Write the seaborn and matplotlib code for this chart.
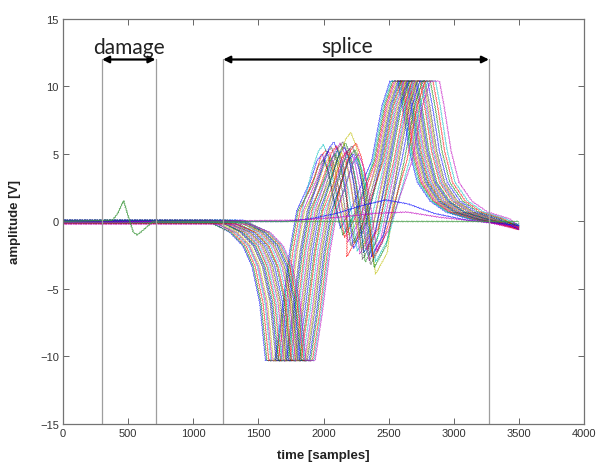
import matplotlib
matplotlib.use("Agg")
import matplotlib.pyplot as plt
import seaborn as sns

# ---- values ----
# main splice curves: features per curve
min_center = [1600, 1610, 1625, 1640, 1650, 1660, 1680, 1690, 1700, 1715, 1725, 1740, 1750,
              1760, 1775, 1790, 1800, 1815, 1830, 1840, 1850, 1865, 1875, 1890, 1900, 1910]
peak_x = [1990, 2000, 2020, 2000, 2040, 2050, 2060, 2080, 2090, 2100, 2110, 2130, 2140,
          2150, 2160, 2170, 2180, 2190, 2200, 2210, 2220, 2230, 2240, 2250, 2260, 2270]
peak_y = [5.0, 4.6, 5.3, 5.7, 5.2, 4.8, 5.5, 5.9, 5.0, 5.6, 5.3, 5.8, 5.1,
          5.9, 5.5, 5.8, 5.2, 4.9, 5.4, 6.6, 5.6, 5.0, 5.3, 5.8, 4.7, 5.0]
dip_x = [2130, 2150, 2160, 2170, 2190, 2200, 2210, 2230, 2240, 2180, 2260, 2280, 2290,
         2300, 2310, 2320, 2330, 2340, 2350, 2400, 2360, 2370, 2390, 2380, 2400, 2410]
dip_y = [-0.5, -1.0, -1.2, -0.8, -1.5, -1.0, -1.8, -2.0, -1.6, -2.6, -2.2, -2.4, -2.0,
         -2.8, -2.3, -3.0, -2.1, -2.5, -2.9, -3.9, -3.2, -2.6, -3.4, -2.7, -3.0, -2.2]
sat_start = [2510, 2530, 2540, 2520, 2550, 2560, 2570, 2580, 2590, 2600, 2610, 2620, 2630,
             2640, 2650, 2660, 2680, 2690, 2700, 2710, 2720, 2740, 2760, 2780, 2800, 2820]
sat_end = [2570, 2590, 2600, 2580, 2610, 2620, 2630, 2640, 2650, 2660, 2670, 2680, 2690,
           2700, 2710, 2720, 2740, 2750, 2760, 2770, 2780, 2800, 2820, 2840, 2860, 2890]
base_level = [0.05, -0.1, 0.1, -0.05, -0.15, 0.0, 0.05, 0.1, -0.1, 0.0, 0.05, -0.05, 0.1,
              -0.1, 0.0, 0.05, -0.15, 0.1, 0.0, -0.05, 0.05, 0.1, -0.1, 0.0, -0.05, -0.2]
tail_end = [-0.3, -0.4, -0.5, -0.2, -0.6, -0.4, -0.3, -0.5, -0.4, -0.6, -0.3, -0.5, -0.4,
            -0.2, -0.5, -0.4, -0.6, -0.3, -0.5, -0.4, -0.3, -0.6, -0.4, -0.5, -0.3, -0.4]
color_codes = ["b", "g", "r", "c", "m", "y", "k"]

# special curves
damage_x = [0, 380, 420, 465, 500, 540, 570, 620, 690, 3500]
damage_y = [0.0, 0.1, 0.6, 1.55, 0.4, -0.8, -1.0, -0.6, 0.0, 0.0]
slow_blue_x = [0, 1700, 1900, 2100, 2300, 2480, 2650, 2850, 3100, 3500]
slow_blue_y = [0.0, 0.0, 0.2, 0.6, 1.2, 1.6, 1.3, 0.6, 0.1, -0.3]
slow_mag_x = [0, 1800, 2100, 2400, 2640, 2900, 3200, 3500]
slow_mag_y = [-0.1, 0.1, 0.3, 0.6, 0.7, 0.3, 0.0, -0.4]

damage_span = [300, 710]
splice_span = [1230, 3270]
arrow_y = 12

matlab_colors = {"b": (0, 0, 1), "g": (0, 0.5, 0), "r": (1, 0, 0), "c": (0, 0.75, 0.75),
                 "m": (0.75, 0, 0.75), "y": (0.75, 0.75, 0), "k": (0.25, 0.25, 0.25)}


def splice_vertices(b, m, px, py, dx, dy, s1, s2, e):
    xs = [0, m - 480, m - 320, m - 220, m - 150, m - 90, m - 45, m + 25, m + 80, m + 140,
          m + 195, px - 90, px - 40, px, px + 40, px + 80, dx, dx + 90, s1 - 140, s1 - 60,
          s1, s2, s2 + 35, s2 + 90, s2 + 150, s2 + 250, s2 + 370, s2 + 540, 3500]
    ys = [b, b, -0.8, -1.8, -3.3, -6, -10.3, -10.3, -6.8, -2.2, 0.8, py - 2.0, py - 0.5, py,
          py - 1.0, py - 3.0, dy, dy + 1.6, 4.5, 8.6, 10.4, 10.4, 8.6, 5.2, 2.9, 1.5, 0.7,
          0.2, e]
    return xs, ys


sns.set_theme(style="ticks")
plt.rcParams["font.family"] = ["Liberation Sans", "DejaVu Sans"]

fig = plt.figure(figsize=(5.98, 4.64), dpi=100)
ax = fig.add_axes([0.1054, 0.0841, 0.8712, 0.8728])

for i in range(len(min_center)):
    xs, ys = splice_vertices(base_level[i], min_center[i], peak_x[i], peak_y[i], dip_x[i],
                             dip_y[i], sat_start[i], sat_end[i], tail_end[i])
    col = matlab_colors[color_codes[i % 7]]
    sns.lineplot(x=xs, y=ys, ax=ax, color=col, lw=0.5, alpha=0.7, sort=False,
                 estimator=None, legend=False)

sns.lineplot(x=slow_blue_x, y=slow_blue_y, ax=ax, color=matlab_colors["b"], lw=0.55,
             alpha=0.75, sort=False, estimator=None, legend=False)
sns.lineplot(x=slow_mag_x, y=slow_mag_y, ax=ax, color=matlab_colors["m"], lw=0.55,
             alpha=0.75, sort=False, estimator=None, legend=False)
sns.lineplot(x=damage_x, y=damage_y, ax=ax, color=(0.25, 0.6, 0.25), lw=0.65,
             alpha=0.85, sort=False, estimator=None, legend=False)

for ln in ax.get_lines():
    ln.set_sketch_params(scale=0.6, length=2.5, randomness=1.0)

for xv in damage_span + splice_span:
    ax.plot([xv, xv], [-15, arrow_y], color=(0.62, 0.62, 0.62), lw=0.9)

arrow_kw = dict(arrowstyle="<|-|>", color="black", lw=1.6, mutation_scale=10,
                shrinkA=0, shrinkB=0)
ax.annotate("", xy=(damage_span[0], arrow_y), xytext=(damage_span[1], arrow_y),
            arrowprops=arrow_kw)
ax.annotate("", xy=(splice_span[0], arrow_y), xytext=(splice_span[1], arrow_y),
            arrowprops=arrow_kw)
ax.text(507, 12.5, "damage", ha="center", va="baseline", fontsize=15,
        family=["Lato", "DejaVu Sans"], color="#222222")
ax.text(2178, 12.55, "splice", ha="center", va="baseline", fontsize=15,
        family=["Lato", "DejaVu Sans"], color="#222222")

ax.set_xlim(0, 4000)
ax.set_ylim(-15, 15)
ax.set_xticks([0, 500, 1000, 1500, 2000, 2500, 3000, 3500, 4000])
ax.set_yticks([-15, -10, -5, 0, 5, 10, 15])
ax.tick_params(direction="in", top=True, right=True, labelsize=8, length=4,
               color=(0.4, 0.4, 0.4), width=0.7, labelcolor="#333333", pad=3)
for sp in ax.spines.values():
    sp.set_color((0.45, 0.45, 0.45))
    sp.set_linewidth(0.9)
ax.set_xlabel("time [samples]", fontsize=9.5, fontweight="bold", labelpad=8, color="#222222")
ax.set_ylabel("amplitude [V]", fontsize=9.5, fontweight="bold", labelpad=14, color="#222222")
ax.set_facecolor("white")
fig.patch.set_facecolor("white")

fig.savefig("out.png", dpi=100)
